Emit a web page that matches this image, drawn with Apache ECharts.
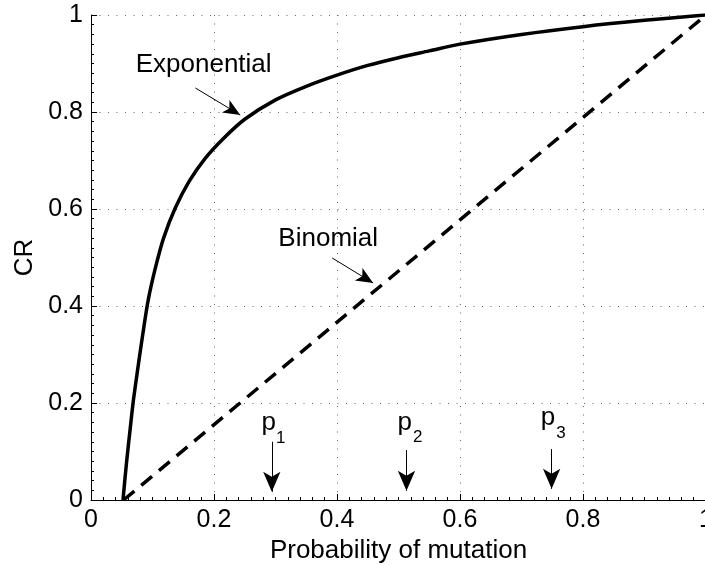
<!DOCTYPE html>
<html>
<head>
<meta charset="utf-8">
<script src="https://cdn.jsdelivr.net/npm/echarts@6/dist/echarts.min.js"></script>
<style>html,body{margin:0;padding:0;background:#fff}#c{width:705px;height:565px}</style>
</head>
<body>
<div id="c"></div>
<script>
// ---- data ----
var xTicks = [0, 0.2, 0.4, 0.6, 0.8, 1];
var yTicks = [0, 0.2, 0.4, 0.6, 0.8, 1];
var expX = [0.052, 0.058, 0.064, 0.069, 0.076, 0.084, 0.093, 0.104, 0.118, 0.137, 0.160, 0.186, 0.215, 0.250, 0.300, 0.350, 0.400, 0.450, 0.500, 0.550, 0.600, 0.700, 0.800, 0.900, 1.000];
var expY = [0.000, 0.080, 0.150, 0.206, 0.270, 0.340, 0.412, 0.475, 0.540, 0.602, 0.658, 0.705, 0.745, 0.785, 0.825, 0.853, 0.876, 0.896, 0.912, 0.926, 0.940, 0.960, 0.976, 0.989, 1.000];
var binX = [0.053, 1.0];
var binY = [0.0, 1.0];
// annotation texts (data coords)
var labelTexts = ['Exponential', 'Binomial'];
var labelPos = [[0.184, 0.897], [0.3865, 0.538]];
var pNames = ['p', 'p', 'p'];
var pSubs = ['1', '2', '3'];
var pPos = [[0.2898, 0.1588], [0.5108, 0.1588], [0.744, 0.169]];
var pSubPos = [[0.3093, 0.1258], [0.5319, 0.1278], [0.765, 0.136]];
// arrows [from, to]
var textArrows = [[[0.1697, 0.8495], [0.2427, 0.7938]], [[0.3922, 0.499], [0.4588, 0.4474]]];
var pArrows = [[[0.294, 0.12], [0.294, 0.017]], [[0.513, 0.103], [0.513, 0.019]], [[0.749, 0.105], [0.749, 0.023]]];

var FONT = 'Liberation Sans';
var FS = 25;
var FS_TEXT = 26;

function zip(a, b) { return a.map(function (v, i) { return [v, b[i]]; }); }

function lbl(t, size) {
  return { show: true, formatter: t, fontSize: size, color: '#000', opacity: 1,
    fontFamily: FONT, textBorderWidth: 0, position: [0, 0], align: 'center', verticalAlign: 'middle' };
}
var textData = [];
labelTexts.forEach(function (t, i) {
  textData.push({ value: labelPos[i], label: lbl(t, FS_TEXT) });
});
pNames.forEach(function (t, i) {
  textData.push({ value: pPos[i], label: lbl(t, FS_TEXT) });
  textData.push({ value: pSubPos[i], label: lbl(pSubs[i], 17) });
});

var arrowLines = [];
textArrows.forEach(function (a) {
  arrowLines.push([{ coord: a[0], symbol: 'none' }, { coord: a[1], symbol: 'arrow', symbolSize: [11, 17] }]);
});
pArrows.forEach(function (a) {
  arrowLines.push([{ coord: a[0], symbol: 'none' }, { coord: a[1], symbol: 'arrow', symbolSize: [13, 20] }]);
});

var axisCommon = {
  type: 'value', min: 0, max: 1, interval: 0.2,
  axisLine: { show: true, lineStyle: { color: '#000', width: 1 } },
  axisTick: { show: true, inside: true, length: 6, lineStyle: { color: '#000' } },
  minorTick: { show: true, splitNumber: 10, length: 3, lineStyle: { color: '#000' } },
  splitLine: { show: true, lineStyle: { color: '#666', width: 1, type: [1, 7.5] } },
  nameTextStyle: { fontFamily: FONT, fontSize: FS_TEXT, color: '#000' },
  axisLabel: { fontFamily: FONT, fontSize: FS, color: '#000' }
};

var chart = echarts.init(document.getElementById('c'), null, { renderer: 'canvas' });
chart.setOption({
  backgroundColor: '#fff',
  animation: false,
  grid: { left: 91, top: 15, width: 615, height: 485, containLabel: false, outerBoundsMode: 'none' },
  xAxis: Object.assign({}, axisCommon, {
    name: 'Probability of mutation', nameLocation: 'middle', nameGap: 24,
    axisLabel: Object.assign({}, axisCommon.axisLabel, { margin: 8 })
  }),
  yAxis: Object.assign({}, axisCommon, {
    name: 'CR', nameLocation: 'middle', nameGap: 52,
    axisLabel: Object.assign({}, axisCommon.axisLabel, { margin: 8 })
  }),
  series: [
    {
      name: 'Exponential', type: 'line', data: zip(expX, expY), smooth: 0.3,
      showSymbol: false, symbol: 'none',
      lineStyle: { color: '#000', width: 3.5 }, z: 5
    },
    {
      name: 'Binomial', type: 'line', data: zip(binX, binY),
      showSymbol: false, symbol: 'none',
      lineStyle: { color: '#000', width: 3.5, type: [14, 9] }, z: 5,
      markLine: {
        silent: true, animation: false, symbol: ['none', 'arrow'],
        label: { show: false },
        lineStyle: { color: '#000', width: 1, type: 'solid' },
        emphasis: { disabled: true },
        data: arrowLines
      }
    },
    {
      name: 'labels', type: 'scatter', data: textData, symbolSize: 1,
      itemStyle: { color: '#fff', opacity: 0 },
      label: { show: true },
      emphasis: { disabled: true },
      silent: true, z: 6
    }
  ]
});
</script>
</body>
</html>
